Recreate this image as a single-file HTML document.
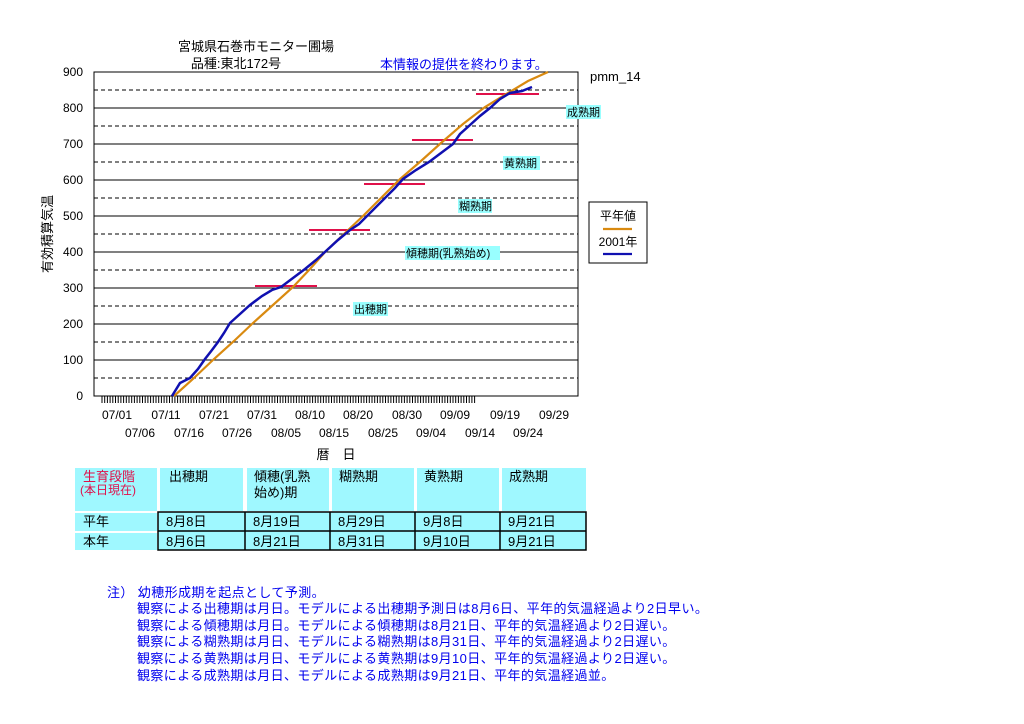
<!DOCTYPE html>
<html><head><meta charset="utf-8"><style>
html,body{margin:0;padding:0;background:#fff;}
body{width:1024px;height:724px;position:relative;overflow:hidden;font-family:"Liberation Sans","Noto Sans CJK JP",sans-serif;}
svg text{font-family:"Liberation Sans","Noto Sans CJK JP",sans-serif;}
.n{position:absolute;color:#0000ee;font-size:13px;white-space:nowrap;line-height:16px;letter-spacing:0.4px;}
</style></head><body>
<svg width="1024" height="724" style="position:absolute;left:0;top:0">
<rect x="94" y="72" width="484" height="324" fill="#fff" stroke="#000" stroke-width="1"/>
<g stroke="#000" stroke-width="1">
<line x1="94" y1="108" x2="578" y2="108"/><line x1="94" y1="144" x2="578" y2="144"/>
<line x1="94" y1="180" x2="578" y2="180"/><line x1="94" y1="216" x2="578" y2="216"/>
<line x1="94" y1="252" x2="578" y2="252"/><line x1="94" y1="288" x2="578" y2="288"/>
<line x1="94" y1="324" x2="578" y2="324"/><line x1="94" y1="360" x2="578" y2="360"/>
</g>
<g stroke="#000" stroke-width="1" stroke-dasharray="4,3">
<line x1="94" y1="90" x2="578" y2="90"/><line x1="94" y1="126" x2="578" y2="126"/>
<line x1="94" y1="162" x2="578" y2="162"/><line x1="94" y1="198" x2="578" y2="198"/>
<line x1="94" y1="234" x2="578" y2="234"/><line x1="94" y1="270" x2="578" y2="270"/>
<line x1="94" y1="306" x2="578" y2="306"/><line x1="94" y1="342" x2="578" y2="342"/>
<line x1="94" y1="378" x2="578" y2="378"/>
</g>
<path id="tk" d="" stroke="#000" fill="none"/>
<g font-size="12" text-anchor="end" fill="#000">
<text x="83" y="76">900</text><text x="83" y="112">800</text><text x="83" y="148">700</text>
<text x="83" y="184">600</text><text x="83" y="220">500</text><text x="83" y="256">400</text>
<text x="83" y="292">300</text><text x="83" y="328">200</text><text x="83" y="364">100</text>
<text x="83" y="400">0</text>
</g>
<text x="52" y="234" font-size="13" text-anchor="middle" transform="rotate(-90 52 234)">有効積算気温</text>
<g font-size="12" text-anchor="middle">
<text x="117" y="419">07/01</text><text x="166" y="419">07/11</text><text x="214" y="419">07/21</text>
<text x="262" y="419">07/31</text><text x="310" y="419">08/10</text><text x="358" y="419">08/20</text>
<text x="407" y="419">08/30</text><text x="455" y="419">09/09</text><text x="505" y="419">09/19</text>
<text x="554" y="419">09/29</text>
<text x="140" y="437">07/06</text><text x="189" y="437">07/16</text><text x="237" y="437">07/26</text>
<text x="286" y="437">08/05</text><text x="334" y="437">08/15</text><text x="383" y="437">08/25</text>
<text x="431" y="437">09/04</text><text x="480" y="437">09/14</text><text x="528" y="437">09/24</text>
</g>
<text x="336" y="459" font-size="13" text-anchor="middle">暦　日</text>
<text x="256" y="51" font-size="13" text-anchor="middle">宮城県石巻市モニター圃場</text>
<text x="236" y="68" font-size="13" text-anchor="middle">品種:東北172号</text>
<text x="380" y="69" font-size="13" fill="#0000ee">本情報の提供を終わります。</text>
<text x="590" y="81" font-size="13">pmm_14</text>
<g font-size="11">
<rect x="353" y="302" width="35" height="14" fill="#9ff"/><text x="354" y="313">出穂期</text>
<rect x="405" y="246" width="95" height="14" fill="#9ff"/><text x="406" y="257">傾穂期(乳熟始め)</text>
<rect x="458" y="199" width="34" height="14" fill="#9ff"/><text x="459" y="210">糊熟期</text>
<rect x="503" y="156" width="37" height="14" fill="#9ff"/><text x="504" y="167">黄熟期</text>
<rect x="566" y="105" width="35" height="14" fill="#9ff"/><text x="567" y="116">成熟期</text>
</g>
<g stroke="#e0104a" stroke-width="2">
<line x1="255" y1="286" x2="317" y2="286"/><line x1="309" y1="230" x2="370" y2="230"/>
<line x1="364" y1="184" x2="425" y2="184"/><line x1="412" y1="140" x2="473" y2="140"/>
<line x1="476" y1="94" x2="539" y2="94"/>
</g>
<polyline fill="none" stroke="#d98a10" stroke-width="2.2" points="174,396 194,378 214,359 234,341 253,323 273,305 293,287 310,269 326,251 345,233 364,215 382,197 400,179 421,161 441,143 463,124 485,107 508,93 528,81 548,72"/>
<polyline fill="none" stroke="#1010b0" stroke-width="2.5" points="172,396 180,383 190,378 198,369 205,359 212,350 218,342 224,333 230,323 240,314 250,305 262,296 272,290 281,287 293,278 305,269 316,260 326,251 338,240 350,230 359,224 368,215 377,206 386,197 395,188 403,179 416,170 429,162 441,153 453,144 460,134 470,125 480,116 490,108 500,99 510,93 522,91 532,87"/>
<rect x="589" y="202" width="58" height="61" fill="#fff" stroke="#000"/>
<text x="618" y="220" font-size="12" text-anchor="middle">平年値</text>
<line x1="603" y1="229" x2="632" y2="229" stroke="#d98a10" stroke-width="2.2"/>
<text x="618" y="246" font-size="12" text-anchor="middle">2001年</text>
<line x1="603" y1="254" x2="632" y2="254" stroke="#1010b0" stroke-width="2.2"/>
<g fill="#9ff8ff">
<rect x="75" y="468" width="82" height="43"/><rect x="160" y="468" width="83" height="43"/>
<rect x="247" y="468" width="82" height="43"/><rect x="332" y="468" width="82" height="43"/>
<rect x="417" y="468" width="82" height="43"/><rect x="502" y="468" width="84" height="43"/>
<rect x="75" y="513" width="82" height="18"/><rect x="75" y="533" width="82" height="17"/>
<rect x="158" y="512" width="428" height="38"/>
</g>
<g stroke="#000" stroke-width="1.5" fill="none">
<rect x="158" y="512" width="428" height="38"/>
<line x1="158" y1="531" x2="586" y2="531"/>
<line x1="245" y1="512" x2="245" y2="550"/><line x1="330" y1="512" x2="330" y2="550"/>
<line x1="415" y1="512" x2="415" y2="550"/><line x1="500" y1="512" x2="500" y2="550"/>
</g>
<g font-size="13">
<text x="83" y="481" fill="#e0104a">生育段階</text><text x="80" y="494" font-size="12" fill="#e0104a">(本日現在)</text>
<text x="169" y="481">出穂期</text><text x="254" y="481">傾穂(乳熟</text><text x="254" y="497">始め)期</text>
<text x="339" y="481">糊熟期</text><text x="424" y="481">黄熟期</text><text x="509" y="481">成熟期</text>
<text x="83" y="526">平年</text><text x="83" y="546">本年</text>
<text x="166" y="526">8月8日</text><text x="253" y="526">8月19日</text><text x="338" y="526">8月29日</text><text x="423" y="526">9月8日</text><text x="508" y="526">9月21日</text>
<text x="166" y="546">8月6日</text><text x="253" y="546">8月21日</text><text x="338" y="546">8月31日</text><text x="423" y="546">9月10日</text><text x="508" y="546">9月21日</text>
</g>
</svg>
<script>
(function(){var d="";for(var x=102;x<=475;x+=2.7){d+="M"+x.toFixed(1)+" 396V403";}document.getElementById("tk").setAttribute("d",d);})();
</script>
<div class="n" style="left:107px;top:585px">注）  幼穂形成期を起点として予測。</div>
<div class="n" style="left:137px;top:601px">観察による出穂期は月日。モデルによる出穂期予測日は8月6日、平年的気温経過より2日早い。</div>
<div class="n" style="left:137px;top:618px">観察による傾穂期は月日。モデルによる傾穂期は8月21日、平年的気温経過より2日遅い。</div>
<div class="n" style="left:137px;top:634px">観察による糊熟期は月日、モデルによる糊熟期は8月31日、平年的気温経過より2日遅い。</div>
<div class="n" style="left:137px;top:651px">観察による黄熟期は月日、モデルによる黄熟期は9月10日、平年的気温経過より2日遅い。</div>
<div class="n" style="left:137px;top:668px">観察による成熟期は月日、モデルによる成熟期は9月21日、平年的気温経過並。</div>
</body></html>
